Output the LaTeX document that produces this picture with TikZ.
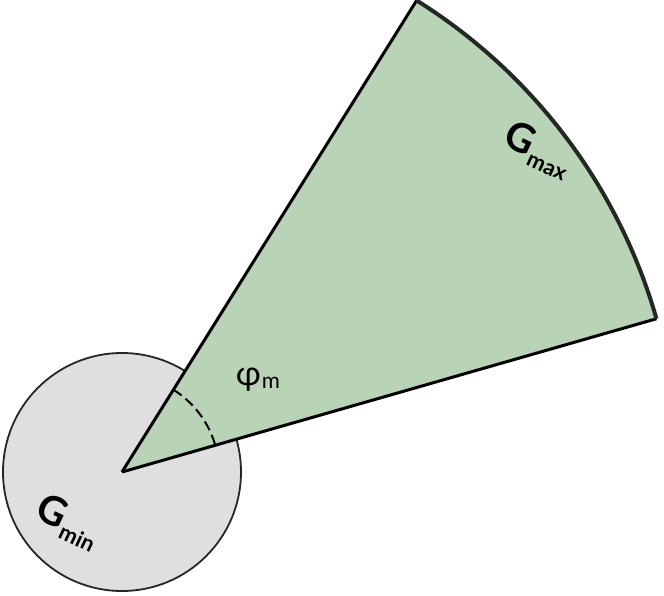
\documentclass[tikz,border=0pt]{standalone}
\usepackage{fontspec}
\setmainfont{Lato}
\definecolor{sect}{HTML}{B9D3B7}
\begin{document}
\begin{tikzpicture}[x=1pt,y=-1pt,
  lab/.style={font=\bfseries\fontsize{40}{40}\selectfont, inner sep=0pt}]
\useasboundingbox (0,0) rectangle (664,596);
\coordinate (o) at (122,472);
\node[circle, minimum size=238pt, fill=gray!25, draw=black!85, line width=1.8pt] (c) at (o) {};
\fill[sect] (o) -- ++(58:556pt) arc[start angle=58,end angle=16,radius=556pt] -- cycle;
\draw[line width=3pt] (o) -- ++(58:556pt) coordinate (a);
\draw[line width=3pt] (o) -- ++(16:556pt) coordinate (b);
\draw[line width=4pt, black!85] (a) arc[start angle=58,end angle=16,radius=556pt];
\draw[line width=2pt, dash pattern=on 10pt off 5pt] (o) ++(58:97pt) arc[start angle=58,end angle=16,radius=97pt];
\node[lab, rotate=-25] (gmax) at (538,150) {G\kern1pt\raisebox{-8pt}{\fontsize{22}{22}\selectfont max}};
\node[lab, rotate=-25] (gmin) at (68,522) {G\kern1pt\raisebox{-8pt}{\fontsize{22}{22}\selectfont min}};
\node[font=\fontsize{34}{34}\selectfont, inner sep=0pt] (phi) at (258,380) {φ\kern1pt\raisebox{-3pt}{\fontsize{22}{22}\selectfont m}};
\end{tikzpicture}
\end{document}
